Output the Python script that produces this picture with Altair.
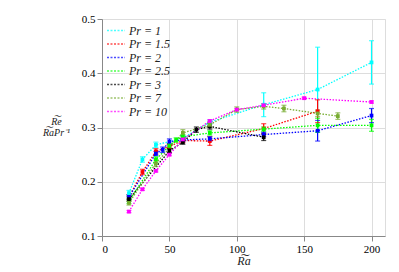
import altair as alt
import pandas as pd

labels = ["Pr = 1", "Pr = 1.5", "Pr = 2", "Pr = 2.5", "Pr = 3", "Pr = 7", "Pr = 10"]
colors = ["#00FFFF", "#FF0000", "#0000FF", "#00FF00", "#000000", "#77AC30", "#FF00FF"]

x_pr1 = [20, 30, 40, 60, 80, 120, 160, 200]
y_pr1 = [0.179, 0.241, 0.268, 0.280, 0.310, 0.342, 0.370, 0.420]
e_pr1 = [0.005, 0.005, 0.005, 0.004, 0.004, 0.022, 0.078, 0.040]

x_pr15 = [20, 30, 40, 50, 60, 80, 120, 160]
y_pr15 = [0.172, 0.218, 0.256, 0.265, 0.276, 0.275, 0.298, 0.330]
e_pr15 = [0.004, 0.005, 0.005, 0.004, 0.004, 0.008, 0.009, 0.021]

x_pr2 = [20, 40, 45, 50, 60, 80, 120, 160, 200]
y_pr2 = [0.172, 0.252, 0.259, 0.274, 0.277, 0.279, 0.287, 0.294, 0.322]
e_pr2 = [0.004, 0.004, 0.005, 0.005, 0.003, 0.004, 0.004, 0.019, 0.013]

x_pr25 = [20, 40, 50, 55, 60, 80, 120, 160, 200]
y_pr25 = [0.164, 0.241, 0.266, 0.277, 0.283, 0.290, 0.297, 0.304, 0.304]
e_pr25 = [0.004, 0.005, 0.004, 0.004, 0.004, 0.004, 0.004, 0.013, 0.011]

x_pr3 = [20, 50, 60, 70, 80, 120]
y_pr3 = [0.168, 0.257, 0.273, 0.296, 0.302, 0.282]
e_pr3 = [0.004, 0.004, 0.004, 0.005, 0.005, 0.006]

x_pr7 = [20, 40, 60, 80, 100, 120, 135, 160, 175]
y_pr7 = [0.161, 0.234, 0.290, 0.305, 0.333, 0.339, 0.335, 0.326, 0.321]
e_pr7 = [0.004, 0.006, 0.006, 0.005, 0.005, 0.005, 0.006, 0.006, 0.006]

x_pr10 = [20, 30, 40, 50, 60, 80, 100, 120, 150, 200]
y_pr10 = [0.145, 0.186, 0.220, 0.250, 0.278, 0.312, 0.333, 0.341, 0.354, 0.347]
e_pr10 = [0.002, 0.002, 0.002, 0.002, 0.002, 0.002, 0.002, 0.002, 0.002, 0.002]

series = [
    (x_pr1, y_pr1, e_pr1), (x_pr15, y_pr15, e_pr15), (x_pr2, y_pr2, e_pr2),
    (x_pr25, y_pr25, e_pr25), (x_pr3, y_pr3, e_pr3), (x_pr7, y_pr7, e_pr7),
    (x_pr10, y_pr10, e_pr10),
]

rows = []
for i, (lab, (xs, ys, es)) in enumerate(zip(labels, series)):
    for xv, yv, ev in zip(xs, ys, es):
        rows.append({"Ra": xv, "val": yv, "err": ev, "Pr": lab, "ord": i})
df = pd.DataFrame(rows)

FONT = "Liberation Serif"

color = alt.Color("Pr:N", scale=alt.Scale(domain=labels, range=colors),
                  legend=alt.Legend(title=None, orient="none", legendX=4, legendY=5,
                                    symbolType="stroke", symbolSize=324, symbolStrokeWidth=1.5,
                                    symbolDash=[2, 1.5], labelFont=FONT, labelFontSize=12,
                                    labelFontStyle="italic", rowPadding=0.5, clipHeight=13,
                                    labelColor="#222", labelOffset=3))

xenc = alt.X("Ra:Q", scale=alt.Scale(domain=[0, 210], nice=False),
             axis=alt.Axis(values=[0, 50, 100, 150, 200], title="R͠a", titleFont=FONT,
                           titleFontSize=12, titleFontStyle="italic", titleFontWeight="normal",
                           titlePadding=1, titleColor="#222", labelFont=FONT, labelFontSize=11))
yenc = alt.Y("val:Q", scale=alt.Scale(domain=[0.1, 0.5], nice=False),
             axis=alt.Axis(values=[0.1, 0.15, 0.2, 0.25, 0.3, 0.35, 0.4, 0.45, 0.5],
                           format="~g", title=["R͠e", "R͠aPr⁻¹"], titleAngle=0,
                           titleFont=FONT, titleFontSize=10, titleFontStyle="italic",
                           titleFontWeight="normal", titleAlign="center", titleBaseline="middle",
                           titleX=-46, titleY=102, titleColor="#222", titleLineHeight=11,
                           labelFont=FONT, labelFontSize=11))

base = alt.Chart(df).encode(x=xenc, color=color, detail="Pr:N", order="ord:Q")

lines = base.mark_line(strokeDash=[1.5, 1.5], strokeWidth=1.3).encode(y=yenc, order=alt.Order("Ra:Q"))
errs = base.transform_calculate(lo="datum.val - datum.err", hi="datum.val + datum.err").mark_rule(
    strokeWidth=1.2).encode(y="lo:Q", y2="hi:Q")
caps_lo = base.transform_calculate(lo="datum.val - datum.err").mark_tick(
    orient="horizontal", size=5, thickness=1.2).encode(y="lo:Q")
caps_hi = base.transform_calculate(hi="datum.val + datum.err").mark_tick(
    orient="horizontal", size=5, thickness=1.2).encode(y="hi:Q")
pts = base.mark_square(size=14, opacity=1, filled=True).encode(y="val:Q")

chart = alt.layer(lines, errs, caps_lo, caps_hi, pts).properties(
    width=283, height=217,
    autosize=alt.AutoSizeParams(type="none"),
    padding={"left": 94, "top": 11, "right": 6, "bottom": 36},
).configure_view(stroke="#bbbbbb", strokeWidth=1).configure_axis(
    labelFont=FONT, labelFontSize=11, labelColor="#222", gridColor="#efefef",
    domainColor="#888", tickColor="#888", tickSize=3, labelPadding=3, domainWidth=1,
).configure(background="white")

chart.save("out.html", embed_options={"renderer": "svg", "actions": False})
